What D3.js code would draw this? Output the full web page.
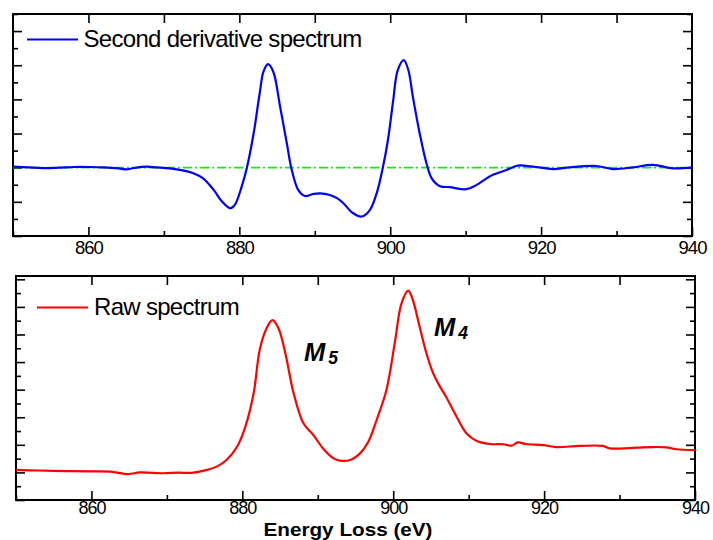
<!DOCTYPE html>
<html>
<head>
<meta charset="utf-8">
<script src="https://cdn.jsdelivr.net/npm/d3@7"></script>
<style>
  html, body { margin: 0; padding: 0; background: #fff; }
  svg { display: block; font-family: "Liberation Sans", Arial, sans-serif; }
</style>
</head>
<body>
<svg id="chart" width="713" height="540"></svg>
<script>
// ---- Data ----
const xTicksMajor = [860, 880, 900, 920, 940];
const xTicksMinor = [850, 870, 890, 910, 930];
const xTicksTop = [860, 870, 880, 890, 900, 910, 920, 930];

const derivEnergy = [850, 852, 854, 856, 858, 860, 862, 864, 865, 866, 867.7, 869, 870.8, 872.5, 873.9, 875.2, 876.6, 877.7, 878.8, 879.4, 880.3, 881.0, 881.9, 882.7, 883.2, 883.8, 884.5, 885.4, 886.3, 886.9, 887.8, 888.7, 889.8, 890.7, 892.0, 893.0, 893.8, 895.0, 896.2, 897.3, 898.2, 899.0, 899.7, 900.4, 901.0, 901.8, 902.4, 903.0, 903.9, 904.8, 905.5, 906.6, 907.9, 910.1, 911.4, 913.6, 915.4, 916.9, 918.9, 921.6, 923.8, 927.3, 929.5, 932.2, 934.8, 937.5, 940];
const derivValue = [0.03, 0.01, -0.01, 0.0, 0.02, 0.02, 0.01, -0.02, -0.05, -0.01, 0.03, 0.01, -0.02, -0.08, -0.16, -0.31, -0.65, -0.99, -1.19, -1.09, -0.56, 0.0, 1.01, 2.18, 2.81, 3.03, 2.81, 1.79, 0.71, -0.02, -0.65, -0.83, -0.77, -0.75, -0.80, -0.90, -1.04, -1.32, -1.43, -1.24, -0.75, -0.02, 0.81, 1.98, 2.86, 3.15, 2.86, 2.08, 1.01, 0.13, -0.31, -0.54, -0.57, -0.63, -0.51, -0.21, -0.07, 0.06, 0.03, -0.04, 0.01, 0.05, -0.04, 0.01, 0.08, -0.02, 0.01];

const rawEnergy = [850, 853, 856.7, 860, 862.5, 864.9, 866.4, 869.5, 871.5, 873.5, 875.3, 876.6, 877.9, 879.3, 880.4, 881.5, 882.3, 883.2, 884.0, 884.8, 885.7, 886.8, 888.1, 889.4, 890.7, 892.1, 892.9, 894.3, 895.6, 896.7, 897.8, 899.1, 900.2, 901.1, 902.0, 902.6, 903.5, 904.4, 905.3, 906.2, 907.0, 908.4, 909.7, 911.0, 912.8, 914.6, 915.7, 916.5, 917.6, 919.9, 921.6, 924.7, 927.8, 928.7, 931.3, 933.1, 934.4, 936.2, 937.5, 940];
const rawValue = [1.09, 1.07, 1.05, 1.04, 1.03, 0.94, 1.00, 0.97, 0.99, 0.99, 1.09, 1.21, 1.45, 1.93, 2.66, 3.87, 5.44, 6.22, 6.52, 6.22, 5.32, 3.87, 2.78, 2.36, 1.87, 1.51, 1.43, 1.45, 1.69, 2.11, 2.90, 3.99, 5.68, 7.13, 7.59, 7.25, 6.28, 5.32, 4.59, 4.11, 3.74, 3.02, 2.42, 2.15, 2.03, 2.02, 1.97, 2.09, 2.03, 1.99, 1.92, 1.96, 1.96, 1.87, 1.88, 1.91, 1.92, 1.91, 1.84, 1.81];

const topYMajor = [-2, -1, 0, 1, 2, 3, 4];
const topYMinor = [-1.5, -0.5, 0.5, 1.5, 2.5, 3.5, 4.5];
const botYMajor = [0, 1, 2, 3, 4, 5, 6, 7, 8];
const botYMinor = [0.5, 1.5, 2.5, 3.5, 4.5, 5.5, 6.5, 7.5];

const derivLabel = "Second derivative spectrum";
const rawLabel = "Raw spectrum";
const xTitle = "Energy Loss (eV)";

// ---- Drawing ----
const svg = d3.select("#chart");

function panel(cfg) {
  const x = d3.scaleLinear().domain([850, 940]).range([cfg.left, cfg.right]);
  const y = d3.scaleLinear().domain(cfg.yDomain).range([cfg.bottom, cfg.top]);
  const g = svg.append("g");

  // bottom axis major with labels
  const bMaj = g.append("g").attr("transform", `translate(0,${cfg.bottom})`)
    .call(d3.axisBottom(x).tickValues(xTicksMajor).tickSizeInner(-9).tickSizeOuter(0).tickPadding(cfg.pad).tickFormat(d3.format("d")));
  bMaj.selectAll("text").attr("font-size", cfg.fs).attr("letter-spacing", "-1px")
    .attr("fill", "#000").attr("font-family", "'Liberation Sans', Arial, sans-serif");
  g.append("g").attr("transform", `translate(0,${cfg.bottom})`)
    .call(d3.axisBottom(x).tickValues(xTicksMinor).tickSizeInner(-5).tickSizeOuter(0).tickFormat(""));
  // top axis
  g.append("g").attr("transform", `translate(0,${cfg.top})`)
    .call(d3.axisTop(x).tickValues(xTicksTop).tickSizeInner(-9).tickSizeOuter(0).tickFormat(""));
  // left axis
  g.append("g").attr("transform", `translate(${cfg.left},0)`)
    .call(d3.axisLeft(y).tickValues(cfg.yMajor).tickSizeInner(-9).tickSizeOuter(0).tickFormat(""));
  g.append("g").attr("transform", `translate(${cfg.left},0)`)
    .call(d3.axisLeft(y).tickValues(cfg.yMinor).tickSizeInner(-5).tickSizeOuter(0).tickFormat(""));
  // right axis
  g.append("g").attr("transform", `translate(${cfg.right},0)`)
    .call(d3.axisRight(y).tickValues(cfg.yMajor).tickSizeInner(-9).tickSizeOuter(0).tickFormat(""));
  g.append("g").attr("transform", `translate(${cfg.right},0)`)
    .call(d3.axisRight(y).tickValues(cfg.yMinor).tickSizeInner(-5).tickSizeOuter(0).tickFormat(""));

  g.selectAll(".domain").remove();
  g.selectAll(".tick line").attr("stroke", "#000").attr("stroke-width", 1.6);

  // frame
  g.append("rect").attr("x", cfg.left).attr("y", cfg.top)
    .attr("width", cfg.right - cfg.left).attr("height", cfg.bottom - cfg.top)
    .attr("fill", "none").attr("stroke", "#000").attr("stroke-width", 2);
  return { x, y, g };
}

// Top panel
const P1 = panel({ left: 13, right: 692, top: 14, bottom: 236, pad: 5, fs: 18.5, yDomain: [-2, 4.5], yMajor: topYMajor, yMinor: topYMinor });
P1.g.append("line")
  .attr("x1", P1.x(850)).attr("x2", P1.x(940)).attr("y1", P1.y(0)).attr("y2", P1.y(0))
  .attr("stroke", "#11ee11").attr("stroke-width", 1.8).attr("stroke-dasharray", "9,3,2,3");
const derivData = derivEnergy.map((e, i) => [e, derivValue[i]]);
P1.g.append("path").datum(derivData)
  .attr("d", d3.line().x(d => P1.x(d[0])).y(d => P1.y(d[1])).curve(d3.curveCatmullRom.alpha(0.5)))
  .attr("fill", "none").attr("stroke", "#0000ff").attr("stroke-width", 2.2);

// legend top
P1.g.append("line").attr("x1", 27).attr("x2", 78).attr("y1", 39.5).attr("y2", 39.5)
  .attr("stroke", "#0000ff").attr("stroke-width", 2.2);
P1.g.append("text").attr("x", 83.5).attr("y", 47).attr("font-size", 24).attr("letter-spacing", "-0.7px")
  .attr("fill", "#000").text(derivLabel);

// Bottom panel
const P2 = panel({ left: 16, right: 695, top: 276, bottom: 500, pad: 1.5, fs: 18, yDomain: [0, 8.12], yMajor: botYMajor, yMinor: botYMinor });
const rawData = rawEnergy.map((e, i) => [e, rawValue[i]]);
P2.g.append("path").datum(rawData)
  .attr("d", d3.line().x(d => P2.x(d[0])).y(d => P2.y(d[1])).curve(d3.curveCatmullRom.alpha(0.5)))
  .attr("fill", "none").attr("stroke", "#ff0000").attr("stroke-width", 2.2);

P2.g.append("line").attr("x1", 37).attr("x2", 88).attr("y1", 307.5).attr("y2", 307.5)
  .attr("stroke", "#ff0000").attr("stroke-width", 2.2);
P2.g.append("text").attr("x", 94).attr("y", 315).attr("font-size", 24).attr("letter-spacing", "-0.7px")
  .attr("fill", "#000").text(rawLabel);

// Peak labels
function peakLabel(xp, yb, sub) {
  const t = svg.append("text").attr("x", xp).attr("y", yb)
    .attr("font-weight", "bold").attr("font-style", "italic").attr("font-size", 25.5).attr("fill", "#000");
  t.append("tspan").text("M");
  t.append("tspan").attr("dx", 3).attr("dy", 3.3).attr("font-size", 17.5).text(sub);
}
peakLabel(304, 360.7, "5");
peakLabel(434, 336, "4");

// Axis title
svg.append("text").attr("x", 348).attr("y", 535.5).attr("text-anchor", "middle")
  .attr("font-weight", "bold").attr("font-size", 18.5)
  .attr("textLength", 169).attr("lengthAdjust", "spacingAndGlyphs")
  .attr("fill", "#000").text(xTitle);
</script>
</body>
</html>
